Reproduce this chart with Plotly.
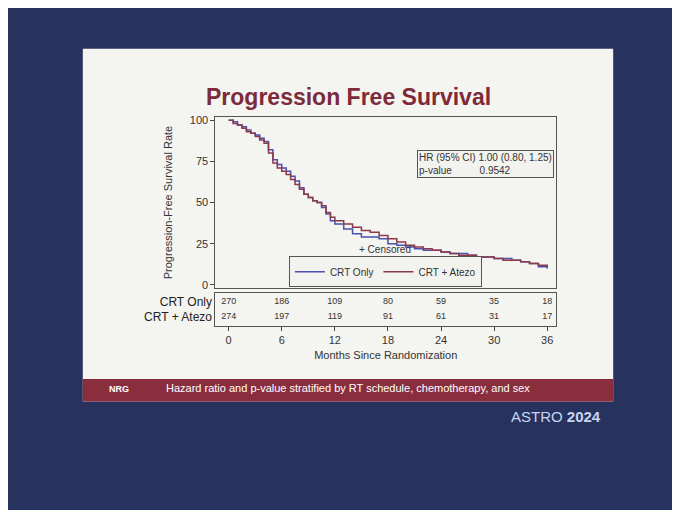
import plotly.graph_objects as go

# --- datos ---
meses = [0, 0.5, 1, 1.5, 2, 2.5, 3, 3.5, 4, 4.5, 5, 5.5, 6, 6.5, 7, 7.5, 8, 8.5, 9, 9.5, 10,
         10.5, 11, 11.5, 12, 13, 14, 15, 16, 17, 18, 19, 20, 21, 22, 23, 24, 25, 26, 27, 28,
         29, 30, 31, 32, 33, 34, 35, 36]
crt_only = [100, 99, 97, 96, 94, 92, 91, 89, 87, 82, 76, 73, 71, 69, 66, 63, 59, 55, 53, 51, 50,
            47, 43, 39, 37, 34, 31, 29, 29, 28, 25, 24, 23, 22, 21, 21, 20, 19, 19, 18, 17,
            17, 16, 16, 15, 14, 13, 11, 10]
crt_atezo = [100, 98, 97, 95, 93, 92, 90, 88, 86, 80, 74, 71, 69, 67, 64, 61, 58, 55, 53, 51, 50,
             48, 44, 41, 39, 37, 35, 33, 32, 30, 28, 26, 24, 23, 22, 21, 20, 19, 18, 18, 17,
             17, 16, 15, 15, 14, 13, 12, 11]

riesgo_meses = [0, 6, 12, 18, 24, 30, 36]
riesgo_only = [270, 186, 109, 80, 59, 35, 18]
riesgo_atezo = [274, 197, 119, 91, 61, 31, 17]

AZUL = "#4a4fb0"
GRANATE = "#8b3a4a"

fig = go.Figure()
fig.add_trace(go.Scatter(x=meses, y=crt_only, mode="lines", line_shape="hv",
                         line=dict(color=AZUL, width=1.5), name="CRT Only"))
fig.add_trace(go.Scatter(x=meses, y=crt_atezo, mode="lines", line_shape="hv",
                         line=dict(color=GRANATE, width=1.5), name="CRT + Atezo"))

# --- tabla de pacientes en riesgo ---
fig.add_trace(go.Scatter(x=riesgo_meses, y=[1] * 7, mode="text",
                         text=[str(v) for v in riesgo_only], textfont=dict(size=9, color="#333"),
                         xaxis="x2", yaxis="y2", showlegend=False))
fig.add_trace(go.Scatter(x=riesgo_meses, y=[0] * 7, mode="text",
                         text=[str(v) for v in riesgo_atezo], textfont=dict(size=9, color="#333"),
                         xaxis="x2", yaxis="y2", showlegend=False))

fig.update_layout(
    width=680, height=510,
    margin=dict(l=0, r=0, t=0, b=0),
    paper_bgcolor="#27335e",
    plot_bgcolor="#f2f2ef",
    font=dict(family="Liberation Sans, Arial", color="#333"),
    xaxis=dict(domain=[0.305, 0.806], range=[-1.5, 37], showticklabels=False, ticks="",
               showgrid=False, zeroline=False, showline=True, linecolor="#555", mirror=True),
    yaxis=dict(domain=[0.45, 0.79], range=[-2, 102], tickvals=[0, 25, 50, 75, 100],
               ticks="outside", ticklen=4, showgrid=False, zeroline=False,
               showline=True, linecolor="#555", mirror=True, tickfont=dict(size=11),
               title=dict(text="Progression-Free Survival Rate", font=dict(size=11), standoff=14)),
    xaxis2=dict(domain=[0.305, 0.806], matches="x", anchor="y2", tickvals=riesgo_meses,
                ticks="outside", ticklen=4, showgrid=False, zeroline=False,
                showline=True, linecolor="#555", mirror=True, tickfont=dict(size=11),
                title=dict(text="Months Since Randomization", font=dict(size=11), standoff=6)),
    yaxis2=dict(domain=[0.375, 0.44], anchor="x2", range=[-0.6, 1.6],
                tickvals=[0, 1], ticktext=["CRT + Atezo", "CRT Only"],
                showgrid=False, zeroline=False, showline=True, linecolor="#555", mirror=True,
                tickfont=dict(size=12, color="#222")),
    legend=dict(orientation="h", x=0.555, y=0.452, xanchor="center", yanchor="bottom",
                bgcolor="#f2f2ef", bordercolor="#555", borderwidth=1, font=dict(size=10)),
    shapes=[
        dict(type="rect", xref="paper", yref="paper", x0=0.11, x1=0.89, y0=0.225, y1=0.925,
             fillcolor="#f4f4f1", line=dict(width=0), layer="below"),
        dict(type="rect", xref="paper", yref="paper", x0=0.11, x1=0.89, y0=0.225, y1=0.27,
             fillcolor="#8a2e3e", line=dict(width=0), layer="below"),
    ],
    annotations=[
        dict(text="<b>Progression Free Survival</b>", xref="paper", yref="paper", x=0.5, y=0.80,
             yanchor="bottom", showarrow=False, font=dict(size=23, color="#7d2a3a"), xanchor="center"),
        dict(text="HR (95% CI) 1.00 (0.80, 1.25)<br>p-value          0.9542", xref="paper", yref="paper",
             x=0.803, y=0.725, xanchor="right", yanchor="top", showarrow=False, align="left",
             font=dict(size=10), bordercolor="#555", borderwidth=1, bgcolor="#f2f2ef"),
        dict(text="+ Censored", xref="paper", yref="paper", x=0.555, y=0.512, yanchor="bottom",
             showarrow=False, font=dict(size=10)),
        dict(text="Hazard ratio and p-value stratified by RT schedule, chemotherapy, and sex",
             xref="paper", yref="paper", x=0.5, y=0.236, showarrow=False,
             font=dict(size=11, color="white")),
        dict(text="<b>NRG</b>", xref="paper", yref="paper", x=0.145, y=0.236, showarrow=False,
             font=dict(size=9, color="white")),
        dict(text="ASTRO <b>2024</b>", xref="paper", yref="paper", x=0.875, y=0.175, showarrow=False,
             xanchor="right", font=dict(size=15, color="#c8d4f0")),
    ],
)

fig.write_html("out.html")
